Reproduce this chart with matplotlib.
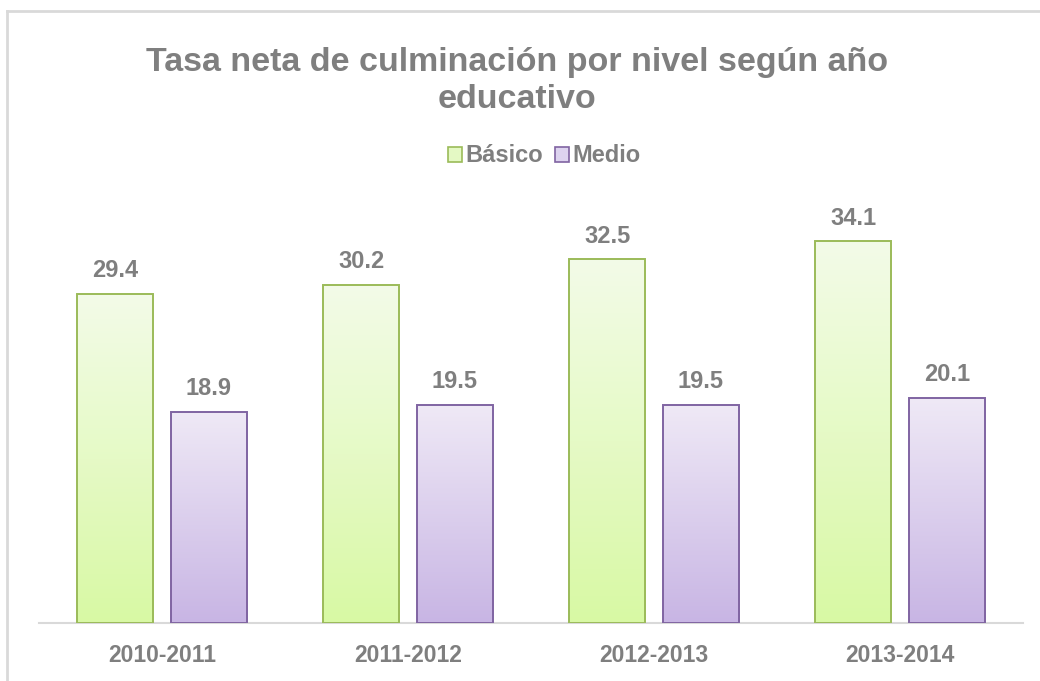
import matplotlib
matplotlib.use("Agg")

import numpy as np
import matplotlib.pyplot as plt
from matplotlib.colors import LinearSegmentedColormap
from matplotlib.lines import Line2D
from matplotlib.patches import Rectangle

anios = ["2010-2011", "2011-2012", "2012-2013", "2013-2014"]
basico = [29.4, 30.2, 32.5, 34.1]
medio = [18.9, 19.5, 19.5, 20.1]

GRIS = "#7f7f7f"
W, H = 1040, 681


def px(x, y):
    # pixel (desde arriba-izquierda) -> fraccion de figura
    return x / W, 1 - y / H


def barras_degradado(ax, barras, arriba, abajo, borde):
    cmap = LinearSegmentedColormap.from_list("g", [abajo, arriba])
    grad = np.linspace(0, 1, 256).reshape(-1, 1)
    for b in barras:
        x0, y0 = b.get_x(), b.get_y()
        w, h = b.get_width(), b.get_height()
        img = ax.imshow(grad, cmap=cmap, origin="lower", aspect="auto",
                        extent=(x0, x0 + w, y0, y0 + h), zorder=2)
        img.set_clip_path(b)
        b.set_facecolor("none")
        b.set_edgecolor(borde)
        b.set_linewidth(1.4)
        b.set_zorder(3)


fig = plt.figure(figsize=(10.4, 6.81), dpi=100)
plt.rcParams["font.family"] = ["Liberation Sans", "DejaVu Sans"]

# marco del grafico
fig.add_artist(Line2D([7 / W, 7 / W], [1 - 11 / H, 0], color="#d9d9d9", lw=2))
fig.add_artist(Line2D([7 / W, 1], [1 - 11 / H, 1 - 11 / H], color="#d9d9d9", lw=2))

escala = 11.19  # px por unidad
ymax = 40
x_izq, x_der = 39, 1023
y_base = 623
l, b = px(x_izq, y_base)
ax = fig.add_axes([l, b, (x_der - x_izq) / W, ymax * escala / H])

x = np.arange(len(anios))
ancho = 0.31
desp = 0.19
b1 = ax.bar(x - desp, basico, ancho, label="Básico")
b2 = ax.bar(x + desp, medio, ancho, label="Medio")
barras_degradado(ax, b1, "#f3fbe8", "#d8f9a4", "#9bbb59")
barras_degradado(ax, b2, "#efe9f6", "#c8b5e4", "#8064a2")

for barras, vals in ((b1, basico), (b2, medio)):
    for r, v in zip(barras, vals):
        ax.text(r.get_x() + r.get_width() / 2, v + 1.5, f"{v:.1f}",
                ha="center", va="baseline", fontsize=17, fontweight="bold", color=GRIS)

ax.set_xlim(-0.5, len(anios) - 0.5)
ax.set_ylim(0, ymax)
ax.set_xticks(x)
ax.set_xticklabels(anios, fontsize=16.5, fontweight="bold", color=GRIS)
ax.tick_params(axis="x", length=0, pad=15)
ax.set_yticks([])
for s in ("top", "right", "left"):
    ax.spines[s].set_visible(False)
ax.spines["bottom"].set_color("#d9d9d9")
ax.spines["bottom"].set_linewidth(1.5)

fig.text(517 / W, 1 - 62 / H, "Tasa neta de culminación por nivel según año",
         ha="center", va="center", fontsize=24.5, fontweight="bold", color=GRIS)
fig.text(517 / W, 1 - 100 / H, "educativo",
         ha="center", va="center", fontsize=24.5, fontweight="bold", color=GRIS)

h1 = Rectangle((0, 0), 1, 1, facecolor="#e4f9c4", edgecolor="#9bbb59", lw=1.2)
h2 = Rectangle((0, 0), 1, 1, facecolor="#ddd3ef", edgecolor="#8064a2", lw=1.2)
leg = fig.legend([h1, h2], ["Básico", "Medio"], loc="center", bbox_to_anchor=px(544, 156),
                 ncol=2, frameon=False, handlelength=0.6, handleheight=0.6,
                 handletextpad=0.15, columnspacing=0.5,
                 prop={"size": 17, "weight": "bold"})
for t in leg.get_texts():
    t.set_color(GRIS)

fig.savefig("out.png", dpi=100)
plt.close(fig)
